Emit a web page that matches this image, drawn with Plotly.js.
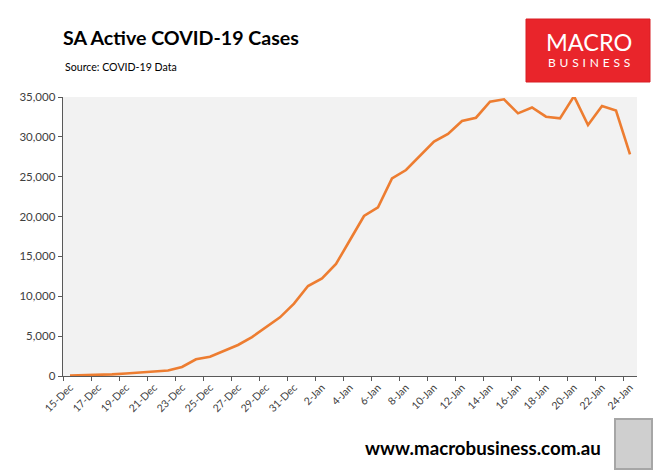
<!DOCTYPE html>
<html>
<head>
<meta charset="utf-8">
<script src="https://cdn.plot.ly/plotly-3.0.1.min.js"></script>
<style>
  html, body { margin: 0; padding: 0; background: #ffffff; }
  #chart { width: 660px; height: 471px; }
</style>
</head>
<body>
<div id="chart"></div>
<script>
// Categories (daily, 15-Dec to 24-Jan)
const dates = [
  "15-Dec","16-Dec","17-Dec","18-Dec","19-Dec","20-Dec","21-Dec","22-Dec","23-Dec","24-Dec",
  "25-Dec","26-Dec","27-Dec","28-Dec","29-Dec","30-Dec","31-Dec","1-Jan","2-Jan","3-Jan",
  "4-Jan","5-Jan","6-Jan","7-Jan","8-Jan","9-Jan","10-Jan","11-Jan","12-Jan","13-Jan",
  "14-Jan","15-Jan","16-Jan","17-Jan","18-Jan","19-Jan","20-Jan","21-Jan","22-Jan","23-Jan","24-Jan"
];
// Active cases
const activeCases = [
  60, 80, 100, 200, 320, 420, 500, 690, 1130, 2100,
  2420, 3180, 3890, 4880, 6150, 7360, 9080, 11290, 12250, 14050,
  17060, 20070, 21160, 24800, 25840, 27640, 29400, 30360, 31990, 32400,
  34410, 34710, 32950, 33680, 32530, 32320, 35100, 31490, 33870, 33300, 27810
];
// Tick labels shown (every second day)
const tickLabels = [
  "15-Dec","17-Dec","19-Dec","21-Dec","23-Dec","25-Dec","27-Dec","29-Dec","31-Dec",
  "2-Jan","4-Jan","6-Jan","8-Jan","10-Jan","12-Jan","14-Jan","16-Jan","18-Jan","20-Jan","22-Jan","24-Jan"
];
const yTicks = [0, 5000, 10000, 15000, 20000, 25000, 30000, 35000];

const FONT = "Lato, 'Liberation Sans', sans-serif";
const HS = "\u200A";

const trace = {
  type: "scatter",
  mode: "lines",
  x: dates,
  y: activeCases,
  line: { color: "#ED7D31", width: 2.6 },
  hoverinfo: "x+y"
};

const layout = {
  width: 660,
  height: 471,
  margin: { l: 63, r: 23, t: 97, b: 95, pad: 0 },
  paper_bgcolor: "#ffffff",
  plot_bgcolor: "#f2f2f2",
  showlegend: false,
  font: { family: FONT, color: "#404040", size: 11 },
  xaxis: {
    type: "category",
    categoryorder: "array",
    categoryarray: dates,
    range: [-0.5, dates.length - 0.5],
    tickmode: "array",
    tickvals: tickLabels,
    ticktext: tickLabels,
    tickson: "boundaries",
    ticks: "outside",
    ticklen: 4,
    tickcolor: "#595959",
    tickangle: -45,
    tickfont: { family: FONT, size: 10.5, color: "#404040" },
    showline: true,
    linecolor: "#595959",
    linewidth: 1.3,
    showgrid: false,
    zeroline: false,
    fixedrange: true
  },
  yaxis: {
    range: [0, 35000],
    tickmode: "array",
    tickvals: yTicks,
    tickformat: ",",
    ticks: "outside",
    ticklen: 4,
    tickcolor: "#595959",
    tickfont: { family: FONT, size: 11.5, color: "#404040" },
    showline: true,
    linecolor: "#595959",
    linewidth: 1.3,
    showgrid: false,
    zeroline: false,
    fixedrange: true
  },
  title: {
    text: "<b>SA Active COVID-19 Cases</b>",
    font: { family: FONT, size: 19.6, color: "#000000" },
    x: 63 / 660,
    xanchor: "left",
    xref: "container",
    y: 1 - 38.5 / 471,
    yanchor: "middle",
    yref: "container"
  },
  shapes: [
    // mask the extra boundary tick at the right end of the x axis
    { type: "rect", xref: "paper", yref: "paper",
      x0: (635.5 - 63) / 574, x1: (640 - 63) / 574,
      y0: (376 - 381.5) / 279, y1: (376 - 377) / 279,
      fillcolor: "#ffffff", line: { width: 0 }, layer: "above" },
    // MacroBusiness logo box
    { type: "rect", xref: "paper", yref: "paper",
      x0: (526 - 63) / 574, x1: (650 - 63) / 574,
      y0: (376 - 82) / 279, y1: (376 - 19) / 279,
      fillcolor: "#e9252b", line: { color: "#d81e24", width: 1 }, layer: "above" },
    // wolf emblem frame
    { type: "rect", xref: "paper", yref: "paper",
      x0: (615 - 63) / 574, x1: (652 - 63) / 574,
      y0: (376 - 469) / 279, y1: (376 - 419) / 279,
      fillcolor: "#cfcfcf", line: { color: "#a6a6a6", width: 2 }, layer: "above" }
  ],
  annotations: [
    { text: "Source: COVID-19 Data", xref: "paper", yref: "paper",
      x: 0, y: (376 - 67.5) / 279, xanchor: "left", yanchor: "middle",
      showarrow: false, font: { family: FONT, size: 10.6, color: "#000000" } },
    { text: "MACRO", xref: "paper", yref: "paper",
      x: (588.5 - 63) / 574, y: (376 - 42) / 279, xanchor: "center", yanchor: "middle",
      showarrow: false, font: { family: FONT, size: 23.5, color: "#ffffff" } },
    { text: ["B","U","S","I","N","E","S","S"].join(" " + HS), xref: "paper", yref: "paper",
      x: (588.5 - 63) / 574, y: (376 - 62.5) / 279, xanchor: "center", yanchor: "middle",
      showarrow: false, font: { family: FONT, size: 12, color: "#ffffff" } },
    { text: "<b>www.macrobusiness.com.au</b>", xref: "paper", yref: "paper",
      x: (603 - 63) / 574, y: (376 - 448) / 279, xanchor: "right", yanchor: "middle",
      showarrow: false, font: { family: FONT, size: 18.7, color: "#000000" } }
  ]
};

Plotly.newPlot("chart", [trace], layout, { displayModeBar: false, staticPlot: true });
</script>
</body>
</html>
